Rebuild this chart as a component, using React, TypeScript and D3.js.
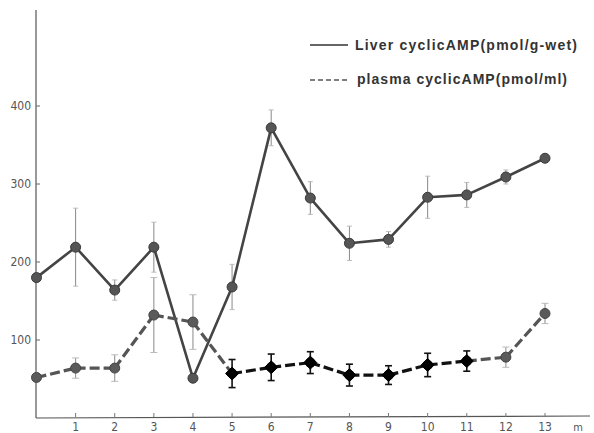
import React from "react";
import * as d3 from "d3";

const months = [0, 1, 2, 3, 4, 5, 6, 7, 8, 9, 10, 11, 12, 13];
const liverValues = [180, 219, 164, 219, 51, 168, 372, 282, 224, 229, 283, 286, 309, 333];
const liverErrors = [0, 50, 13, 32, 5, 29, 23, 21, 22, 10, 27, 16, 9, 4];
const plasmaValues = [52, 64, 64, 132, 123, 57, 65, 71, 55, 55, 68, 73, 78, 134];
const plasmaErrors = [0, 13, 17, 48, 35, 18, 17, 14, 14, 12, 15, 13, 13, 13];
// which plasma points are drawn as black (highlighted) markers
const plasmaBlack = [false, false, false, false, false, true, true, true, true, true, true, true, false, false];
const yTicks = [100, 200, 300, 400];
const xTickLabels = ["1", "2", "3", "4", "5", "6", "7", "8", "9", "10", "11", "12", "13"];
const legendLabels = ["Liver cyclicAMP(pmol/g-wet)", "plasma cyclicAMP(pmol/ml)"];

export default function App() {
  const W = 594, H = 433;
  const x = d3.scaleLinear().domain([0, 13]).range([36.5, 545]);
  const y = d3.scaleLinear().domain([0, 100]).range([418, 340]);
  const line = d3.line<number>().x((_, i) => x(months[i])).y((d) => y(d));

  const liverPath = line(liverValues) || "";

  const tickFont = "'DejaVu Sans Condensed', 'Liberation Sans Narrow', 'DejaVu Sans', sans-serif";
  const legendFont = "'Liberation Sans', Arial, sans-serif";

  const plasmaSegs = plasmaValues.slice(0, -1).map((v, i) => ({
    d: d3.line<[number, number]>()([
      [x(months[i]), y(v)],
      [x(months[i + 1]), y(plasmaValues[i + 1])],
    ]) || "",
    black: i >= 5 && i <= 10,
    i,
  }));

  return (
    <svg width={W} height={H} style={{ position: "absolute", left: 0, top: 0, background: "#fff" }}>
      {/* axes */}
      <line x1={36} y1={10} x2={36} y2={418} stroke="#555" strokeWidth={1.2} />
      <line x1={36} y1={418} x2={590} y2={416} stroke="#555" strokeWidth={1.2} />
      {yTicks.map((t) => (
        <g key={t}>
          <line x1={36} x2={40} y1={y(t)} y2={y(t)} stroke="#666" strokeWidth={1} />
          <text x={31} y={y(t) + 4} textAnchor="end" fontSize={12} fontFamily={tickFont} fill="#555">
            {t}
          </text>
        </g>
      ))}
      {xTickLabels.map((lab, i) => (
        <g key={lab}>
          <line x1={x(i + 1)} x2={x(i + 1)} y1={417} y2={413} stroke="#777" strokeWidth={1} />
          <text x={x(i + 1)} y={431} textAnchor="middle" fontSize={12} fontFamily={tickFont} fill="#555">
            {lab}
          </text>
        </g>
      ))}
      <text x={578} y={431} textAnchor="middle" fontSize={11} fontFamily={tickFont} fill="#555">m</text>

      {/* liver error bars */}
      {liverValues.map((v, i) =>
        liverErrors[i] > 0 ? (
          <g key={"le" + i} stroke="#888" strokeWidth={1}>
            <line x1={x(i)} x2={x(i)} y1={y(v + liverErrors[i])} y2={y(v - liverErrors[i])} />
            <line x1={x(i) - 2.5} x2={x(i) + 2.5} y1={y(v + liverErrors[i])} y2={y(v + liverErrors[i])} stroke="#bbb" />
            <line x1={x(i) - 2.5} x2={x(i) + 2.5} y1={y(v - liverErrors[i])} y2={y(v - liverErrors[i])} stroke="#bbb" />
          </g>
        ) : null
      )}
      {/* plasma error bars */}
      {plasmaValues.map((v, i) =>
        plasmaErrors[i] > 0 ? (
          <g key={"pe" + i} stroke={plasmaBlack[i] ? "#111" : "#888"} strokeWidth={plasmaBlack[i] ? 1.6 : 1}>
            <line x1={x(i)} x2={x(i)} y1={y(v + plasmaErrors[i])} y2={y(v - plasmaErrors[i])} />
            <line x1={x(i) - 3.5} x2={x(i) + 3.5} y1={y(v + plasmaErrors[i])} y2={y(v + plasmaErrors[i])} stroke={plasmaBlack[i] ? "#111" : "#bbb"} />
            <line x1={x(i) - 3.5} x2={x(i) + 3.5} y1={y(v - plasmaErrors[i])} y2={y(v - plasmaErrors[i])} stroke={plasmaBlack[i] ? "#111" : "#bbb"} />
          </g>
        ) : null
      )}

      {/* liver line */}
      <path d={liverPath} fill="none" stroke="#444" strokeWidth={2.6} strokeLinejoin="round" />
      {/* plasma dashed line segments */}
      {plasmaSegs.map((s) => (
        <path key={"ps" + s.i} d={s.d} fill="none" stroke={s.black ? "#111" : "#555"} strokeWidth={3.2} strokeDasharray="10,4" />
      ))}

      {/* markers */}
      {liverValues.map((v, i) => (
        <circle key={"lm" + i} cx={x(i)} cy={y(v)} r={5} fill="#555" stroke="#3a3a3a" strokeWidth={1} />
      ))}
      {plasmaValues.map((v, i) =>
        plasmaBlack[i] ? (
          <path
            key={"pm" + i}
            d={`M${x(i)},${y(v) - 6.5}L${x(i) + 6.5},${y(v)}L${x(i)},${y(v) + 6.5}L${x(i) - 6.5},${y(v)}Z`}
            fill="#000"
            stroke="#000"
            strokeWidth={1}
            strokeLinejoin="round"
          />
        ) : (
          <circle key={"pm" + i} cx={x(i)} cy={y(v)} r={5} fill="#5a5a5a" stroke="#444" strokeWidth={1} />
        )
      )}
      {plasmaValues.map((v, i) =>
        plasmaBlack[i] ? <circle key={"pc" + i} cx={x(i)} cy={y(v)} r={5} fill="#000" /> : null
      )}

      {/* legend */}
      <line x1={310} x2={348} y1={45} y2={45} stroke="#333" strokeWidth={1.3} />
      <text x={355} y={50} fontSize={14} fontWeight="bold" fontFamily={legendFont} fill="#333" textLength={222} lengthAdjust="spacing">
        {legendLabels[0]}
      </text>
      <line x1={310} x2={350} y1={80} y2={80} stroke="#555" strokeWidth={1.3} strokeDasharray="5,3" />
      <text x={357} y={84} fontSize={14} fontWeight="bold" fontFamily={legendFont} fill="#333" textLength={210} lengthAdjust="spacing">
        {legendLabels[1]}
      </text>
    </svg>
  );
}
